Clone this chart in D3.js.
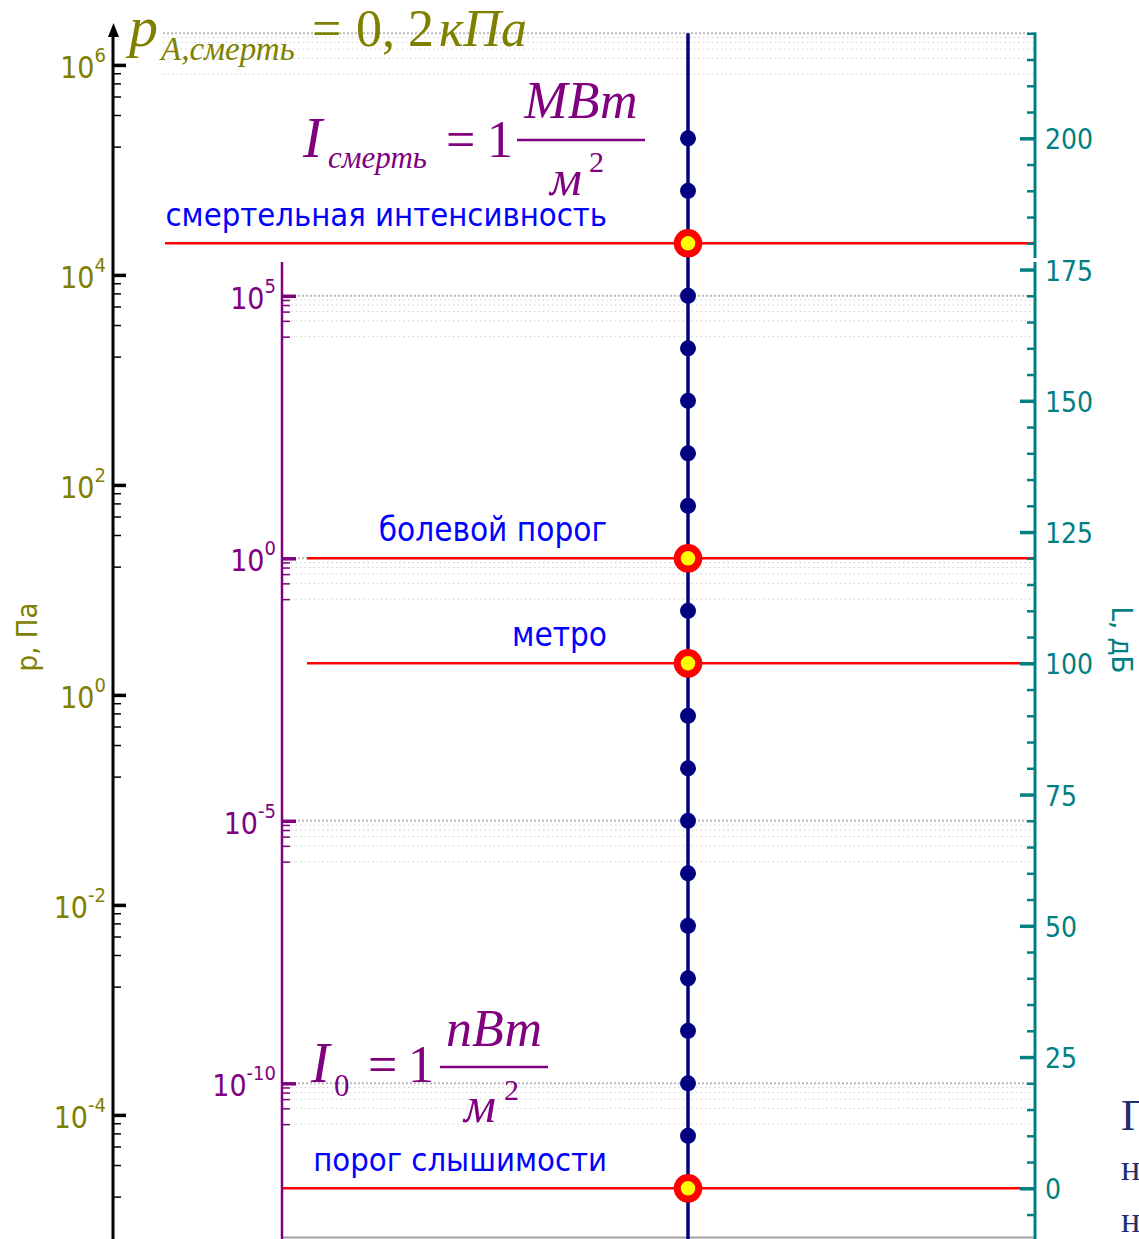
<!DOCTYPE html>
<html>
<head>
<meta charset="utf-8">
<script src="https://cdn.jsdelivr.net/npm/d3@7"></script>
<style>
  html, body { margin: 0; padding: 0; background: #fff; overflow: hidden; }
  svg { display: block; }
  .sans { font-family: "DejaVu Sans Condensed", "DejaVu Sans", sans-serif; font-stretch: condensed; }
  .serif { font-family: "Liberation Serif", "Times New Roman", serif; }
</style>
</head>
<body>
<div class="chart"></div>
<script>
var width = 1139;
var height = 1239;

// sound levels shown as dots on the level line, dB
var levelsDb = [0, 10, 20, 30, 40, 50, 60, 70, 80, 90, 100, 110, 120, 130, 140, 150, 160, 170, 180, 190, 200];
// highlighted levels and their captions
var keyLevelsDb = [180, 120, 100, 0];
var keyLabels = ["смертельная интенсивность", "болевой порог", "метро", "порог слышимости"];
// axis ticks
var pressureTicks = [1e-4, 1e-2, 1, 1e2, 1e4, 1e6];          // p, Па
var intensityTicks = [1e-10, 1e-5, 1, 1e5];                  // I, Вт/м²
var gridDecades = [1e10, 1e5, 1, 1e-5, 1e-10];               // I, Вт/м²
var minorFractions = [5/6, 4/6, 3/6, 2/6, 1/6];
var dbMajorTicks = [0, 25, 50, 75, 100, 125, 150, 175, 200];
var dbMinorTicks = [-5, 5, 10, 15, 20, 30, 35, 40, 45, 55, 60, 65, 70, 80, 85, 90, 95, 105, 110, 115, 120,
                    130, 135, 140, 145, 155, 160, 165, 170, 180, 185, 190, 195, 205, 210, 215, 220];
// reference values: L = 0 dB
var I0 = 1e-12, p0 = 2e-5;

// layout
var xP = 113, xI = 282, xL = 1035, xLine = 688;
var lineStart = [165, 307, 307, 282];
var labelSize = [32.5, 33, 33, 32.5];

var svg = d3.select(".chart").append("svg")
    .attr("width", width)
    .attr("height", height);

var yL = d3.scaleLinear().domain([0, 220]).range([1188.3, 33.3]);
var yI = d3.scaleLog().domain([I0, I0 * 1e22]).range([yL(0), yL(220)]);
var yP = d3.scaleLog().domain([p0, p0 * 1e11]).range([yL(0), yL(220)]);

// ---- gridlines (intensity decades)
var gridRows = [];
gridDecades.forEach(function(d){
    gridRows.push({v: d, major: true, x0: d > 1e6 ? 163 : xI});
    minorFractions.forEach(function(f){
        gridRows.push({v: d * f, major: false, x0: d > 1e6 ? 163 : xI});
    });
});
svg.append("g").selectAll("line")
    .data(gridRows)
    .enter().append("line")
    .attr("x1", d => d.x0)
    .attr("x2", xL)
    .attr("y1", d => yI(d.v))
    .attr("y2", d => yI(d.v))
    .attr("stroke", d => d.major ? "#bcbcbc" : "#cfcfcf")
    .attr("stroke-width", d => d.major ? 2 : 1)
    .attr("stroke-dasharray", d => d.major ? "2,2" : "1.5,3");

// bottom border
svg.append("line")
    .attr("x1", xI).attr("x2", xL)
    .attr("y1", 1237.5).attr("y2", 1237.5)
    .attr("stroke", "#a0a0a0").attr("stroke-width", 2);

// ---- red level lines
svg.append("g").selectAll("line")
    .data(keyLevelsDb)
    .enter().append("line")
    .attr("x1", (d, i) => lineStart[i])
    .attr("x2", xL)
    .attr("y1", d => yL(d))
    .attr("y2", d => yL(d))
    .attr("stroke", "#ff0000")
    .attr("stroke-width", 2.5);

// captions
svg.append("g").selectAll("text")
    .data(keyLevelsDb)
    .enter().append("text")
    .attr("class", "sans")
    .attr("x", 607)
    .attr("y", d => yL(d) - 17)
    .attr("text-anchor", "end")
    .attr("font-size", (d, i) => labelSize[i] + "px")
    .attr("fill", "#0000ff")
    .text((d, i) => keyLabels[i]);

// ---- level line with dots
svg.append("line")
    .attr("x1", xLine).attr("x2", xLine)
    .attr("y1", yL(220)).attr("y2", height + 5)
    .attr("stroke", "#000080").attr("stroke-width", 3.5);

svg.append("g").selectAll("circle")
    .data(levelsDb)
    .enter().append("circle")
    .attr("cx", xLine)
    .attr("cy", d => yL(d))
    .attr("r", 8)
    .attr("fill", "#000080");

svg.append("g").selectAll("circle")
    .data(keyLevelsDb)
    .enter().append("circle")
    .attr("cx", xLine)
    .attr("cy", d => yL(d))
    .attr("r", 10.8)
    .attr("fill", "#ffff00")
    .attr("stroke", "#ff0000")
    .attr("stroke-width", 7);

// ---- axes
function powLabel(sel, size) {
    sel.each(function(d){
        var t = d3.select(this);
        t.text("10");
        t.append("tspan")
            .attr("font-size", size)
            .attr("dy", "-0.8em")
            .text(Math.round(Math.log10(d)));
    });
}

function minorOf(ticks) {
    var out = [];
    ticks.forEach(function(d){
        minorFractions.forEach(function(f){ out.push(d * f); });
    });
    return out;
}

// pressure axis (black)
var gP = svg.append("g").attr("transform", "translate(" + xP + ",0)");
gP.append("line")
    .attr("y1", 30).attr("y2", height + 5)
    .attr("stroke", "#000").attr("stroke-width", 3);
gP.append("path")
    .attr("d", "M0.5,23 L-5,37 L6,37 Z")
    .attr("fill", "#000");
var axP = gP.append("g")
    .call(d3.axisLeft(yP).tickValues(pressureTicks).tickSize(-13).tickPadding(7));
var axPm = gP.append("g")
    .call(d3.axisLeft(yP).tickValues(minorOf(pressureTicks)).tickSize(-8).tickFormat(""));
[axP, axPm].forEach(function(a){ a.select(".domain").remove(); });
axP.selectAll("line").attr("stroke", "#000").attr("stroke-width", 3.5);
axPm.selectAll("line").attr("stroke", "#000").attr("stroke-width", 1.5);
axP.selectAll("text")
    .attr("class", "sans")
    .attr("font-size", "30px")
    .attr("fill", "#808000")
    .attr("dy", "0.42em")
    .call(powLabel, "20px");

svg.append("text")
    .attr("class", "sans")
    .attr("transform", "translate(37,637) rotate(-90)")
    .attr("text-anchor", "middle")
    .attr("font-size", "29px")
    .attr("fill", "#808000")
    .text("p, Па");

// intensity axis (purple)
var gI = svg.append("g").attr("transform", "translate(" + xI + ",0)");
gI.append("line")
    .attr("y1", 262).attr("y2", height + 5)
    .attr("stroke", "#800080").attr("stroke-width", 2.5);
var axI = gI.append("g")
    .call(d3.axisLeft(yI).tickValues(intensityTicks).tickSize(-14).tickPadding(6));
var axIm = gI.append("g")
    .call(d3.axisLeft(yI).tickValues(minorOf(intensityTicks)).tickSize(-8).tickFormat(""));
[axI, axIm].forEach(function(a){ a.select(".domain").remove(); });
axI.selectAll("line").attr("stroke", "#800080").attr("stroke-width", 3.5);
axIm.selectAll("line").attr("stroke", "#800080").attr("stroke-width", 1.5);
axI.selectAll("text")
    .attr("class", "sans")
    .attr("font-size", "30px")
    .attr("fill", "#800080")
    .attr("dy", "0.42em")
    .call(powLabel, "20px");

// level axis (teal)
var gL = svg.append("g").attr("transform", "translate(" + xL + ",0)");
gL.append("line")
    .attr("y1", yL(220) - 1).attr("y2", 258)
    .attr("stroke", "#008080").attr("stroke-width", 3);
gL.append("line")
    .attr("y1", 262).attr("y2", height + 5)
    .attr("stroke", "#008080").attr("stroke-width", 3);
var axL = gL.append("g")
    .call(d3.axisRight(yL).tickValues(dbMajorTicks).tickSize(0).tickPadding(10));
var axLm = gL.append("g")
    .call(d3.axisLeft(yL).tickValues(dbMinorTicks).tickSize(8).tickFormat(""));
var axLM = gL.append("g")
    .call(d3.axisLeft(yL).tickValues(dbMajorTicks).tickSize(15).tickFormat(""));
[axL, axLm, axLM].forEach(function(a){ a.select(".domain").remove(); });
axLm.selectAll("line").attr("stroke", "#008080").attr("stroke-width", 2.5);
axLM.selectAll("line").attr("stroke", "#008080").attr("stroke-width", 3.5);
axL.selectAll("text")
    .attr("class", "sans")
    .attr("font-size", "28px")
    .attr("fill", "#008080")
    .attr("dy", "0.38em");

svg.append("text")
    .attr("class", "sans")
    .attr("transform", "translate(1112,640) rotate(90)")
    .attr("text-anchor", "middle")
    .attr("font-size", "29px")
    .attr("fill", "#008080")
    .text("L, дБ");

// ---- formulas
function piece(g, txt, x, y, size, italic, anchor) {
    return g.append("text")
        .attr("class", "serif")
        .attr("x", x).attr("y", y)
        .attr("font-size", size + "px")
        .attr("font-style", italic ? "italic" : "normal")
        .attr("text-anchor", anchor || "start")
        .text(txt);
}

var fP = svg.append("g").attr("fill", "#808000");
piece(fP, "p", 129, 46, 58, true);
piece(fP, "A,смерть", 161, 60, 33, true);
piece(fP, "=", 312, 46, 52, false);
piece(fP, "0, 2", 356, 46, 52, false);
piece(fP, "кПа", 439, 46, 52, true);

var fD = svg.append("g").attr("fill", "#800080");
piece(fD, "I", 303, 157, 58, true);
piece(fD, "смерть", 328, 168, 31, true);
piece(fD, "=", 446, 157, 52, false);
piece(fD, "1", 487, 157, 52, false);
fD.append("line").attr("x1", 517).attr("x2", 645).attr("y1", 140).attr("y2", 140)
    .attr("stroke", "#800080").attr("stroke-width", 2.5);
piece(fD, "МВт", 581, 118, 52, true, "middle");
piece(fD, "м", 550, 195, 50, true);
piece(fD, "2", 589, 172, 30, false);

var fT = svg.append("g").attr("fill", "#800080");
piece(fT, "I", 311, 1082, 56, true);
piece(fT, "0", 334, 1096, 31, false);
piece(fT, "=", 368, 1082, 52, false);
piece(fT, "1", 408, 1082, 52, false);
fT.append("line").attr("x1", 440).attr("x2", 548).attr("y1", 1067).attr("y2", 1067)
    .attr("stroke", "#800080").attr("stroke-width", 2.5);
piece(fT, "пВт", 494, 1046, 52, true, "middle");
piece(fT, "м", 464, 1122, 50, true);
piece(fT, "2", 504, 1100, 30, false);

// page text cut by the right edge
var fR = svg.append("g").attr("fill", "#1f2f6b");
piece(fR, "П", 1121, 1130, 44, false);
piece(fR, "н", 1121, 1180, 36, false);
piece(fR, "н", 1121, 1232, 36, false);
</script>
</body>
</html>
